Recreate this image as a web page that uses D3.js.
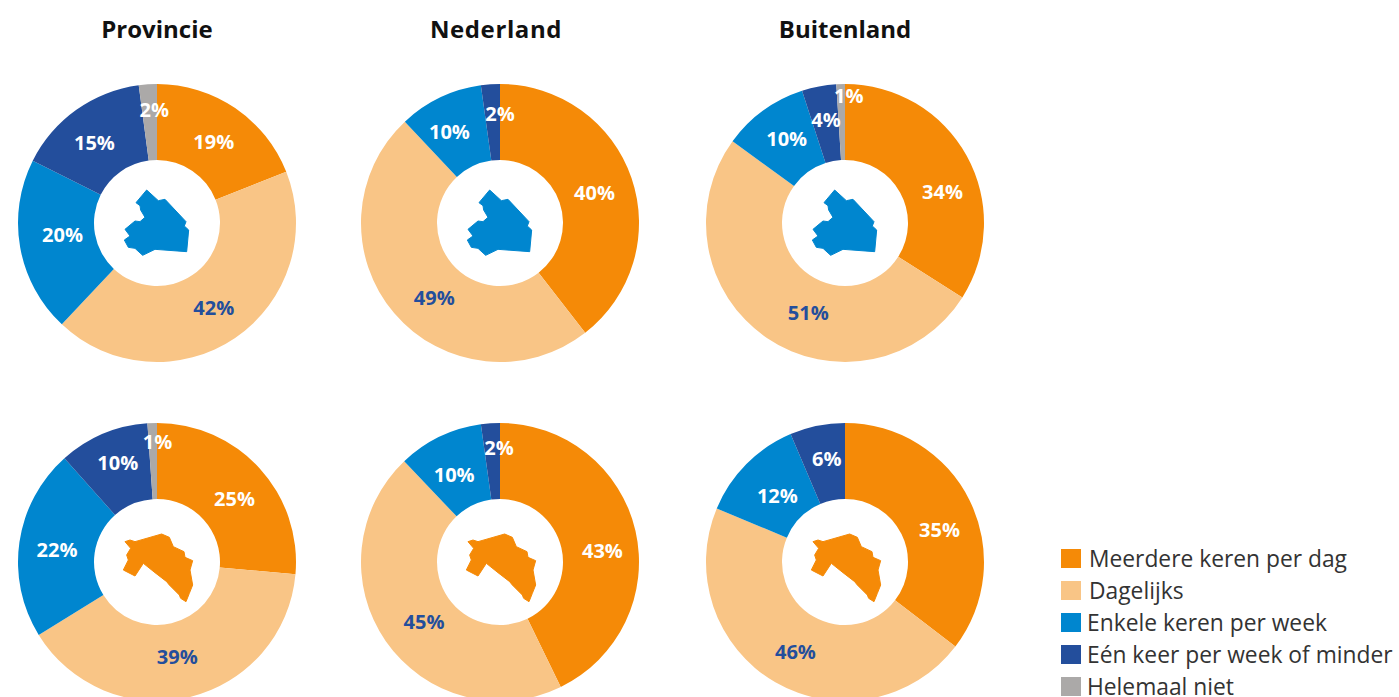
<!DOCTYPE html>
<html><head><meta charset="utf-8">
<script src="https://cdn.jsdelivr.net/npm/d3@7/dist/d3.min.js"></script>
<style>html,body{margin:0;padding:0;background:#fff;overflow:hidden}svg{display:block}</style>
</head><body><svg id="c" width="1399" height="697"></svg>
<script>
const categories = ["Meerdere keren per dag","Dagelijks","Enkele keren per week","Eén keer per week of minder","Helemaal niet"];
const columns = ["Provincie","Nederland","Buitenland"];
const colors = ["#F58A07","#F9C586","#0086CF","#234E9C","#ABA9A8"];

// Drawn shares and the printed labels, per row and column
const drentheValues = [
  [19,43,20.4,15.5,2.1],
  [39.5,48.5,9.8,2.2,0],
  [34,51,10,4,1]
];
const drentheLabels = [
  ["19%","42%","20%","15%","2%"],
  ["40%","49%","10%","2%",""],
  ["34%","51%","10%","4%","1%"]
];
const gelderlandValues = [
  [26.4,39.8,22.2,10.5,1.1],
  [42.8,45.1,9.9,2.2,0],
  [35.4,45.9,12.3,6.4,0]
];
const gelderlandLabels = [
  ["25%","39%","22%","10%","1%"],
  ["43%","45%","10%","2%",""],
  ["35%","46%","12%","6%",""]
];

// Province outlines, in px relative to the pie centre
const drentheOutline = [[170,90],[138,128],[150,137],[152,150],[165,172],[150,185],[135,183],[105,208],[120,228],[103,240],[115,262],[135,265],[158,286],[195,268],[290,275],[296,210],[283,198],[288,185],[225,118],[205,122]].map(([x,y])=>[x/3-67,y/3-63]);
const gelderlandOutline = [[105,125],[120,120],[135,125],[215,102],[238,112],[250,140],[282,155],[285,172],[308,182],[300,210],[308,255],[298,280],[288,305],[272,295],[268,285],[238,255],[230,245],[195,218],[160,190],[135,228],[100,210],[115,180],[110,165],[122,145]].map(([x,y])=>[x/3-67,y/3-62]);

const centersX = [157,500,845];
const titleX = [157,496,845];
const rows = [
  {cy:223, values:drentheValues, labels:drentheLabels, outline:drentheOutline, fill:colors[2]},
  {cy:562, values:gelderlandValues, labels:gelderlandLabels, outline:gelderlandOutline, fill:colors[0]}
];
const outerR = 139, innerR = 63, labelR = 101;
// Hand placement of labels relative to the slice centroid: "row-col-slice": [dx,dy]
const nudges = {
  "0-0-0":[0,2],"0-0-1":[0,1],"0-0-2":[5,-6],"0-0-3":[-4,2],"0-0-4":[4,-12],
  "0-1-0":[-1,3],"0-1-1":[11,9],"0-1-2":[-7,0],"0-1-3":[7,-8],
  "0-2-0":[9,17],"0-2-1":[20,6],"0-2-2":[1,-2],"0-2-3":[0,-4],"0-2-4":[7,-26],
  "1-0-0":[3,5],"1-0-1":[-3,-3],"1-0-2":[0,2],"1-0-3":[0,-6],"1-0-4":[4,-19],
  "1-1-0":[4,11],"1-1-1":[7,2],"1-1-2":[-2,4],"1-1-3":[6,-13],
  "1-2-0":[4,13],"1-2-1":[1,2],"1-2-2":[4,5],"1-2-3":[2,-4]
};

const svg = d3.select("#c");
const font = "'Open Sans',sans-serif";
const pie = d3.pie().sort(null).value(d=>d);
const arc = d3.arc().innerRadius(innerR).outerRadius(outerR);
const labelArc = d3.arc().innerRadius(labelR).outerRadius(labelR);
const outlineLine = d3.line().curve(d3.curveLinearClosed);

columns.forEach((name,i)=>{
  svg.append("text").attr("x",titleX[i]).attr("y",38).attr("text-anchor","middle")
    .attr("font-family",font).attr("font-weight",700).attr("font-size",24).attr("fill","#111")
    .attr("letter-spacing",i===1?0.6:0).text(name);
});

rows.forEach((row,r)=>{
  columns.forEach((_,c)=>{
    const g = svg.append("g").attr("transform",`translate(${centersX[c]},${row.cy})`);
    const slices = pie(row.values[c]);
    g.selectAll("path.s").data(slices).join("path").attr("class","s").attr("d",arc).attr("fill",(d,i)=>colors[i]);
    g.append("path").attr("d",outlineLine(row.outline)).attr("fill",row.fill)
      .attr("stroke",row.fill).attr("stroke-width",1).attr("stroke-linejoin","round");
    g.selectAll("text").data(slices).join("text")
      .attr("transform",(d,i)=>{
        const [x,y]=labelArc.centroid(d), n=nudges[`${r}-${c}-${i}`]||[0,0];
        return `translate(${x+n[0]},${y+n[1]})`;
      })
      .attr("text-anchor","middle").attr("dy","0.36em")
      .attr("font-family",font).attr("font-weight",700).attr("font-size",20)
      .attr("fill",(d,i)=>i===1?colors[3]:"#fff")
      .text((d,i)=>row.labels[c][i]);
  });
});

const legendY = d3.scalePoint().domain(categories).range([559,687]);
const lg = svg.append("g");
categories.forEach((cat,i)=>{
  const y = legendY(cat);
  lg.append("rect").attr("x",1061).attr("y",y-10).attr("width",20).attr("height",19).attr("fill",colors[i]);
  lg.append("text").attr("x",i<2?1089:1087).attr("y",y).attr("dy","0.36em")
    .attr("font-family",font).attr("font-size",22.8).attr("fill","#333").text(cat);
});
</script></body></html>
